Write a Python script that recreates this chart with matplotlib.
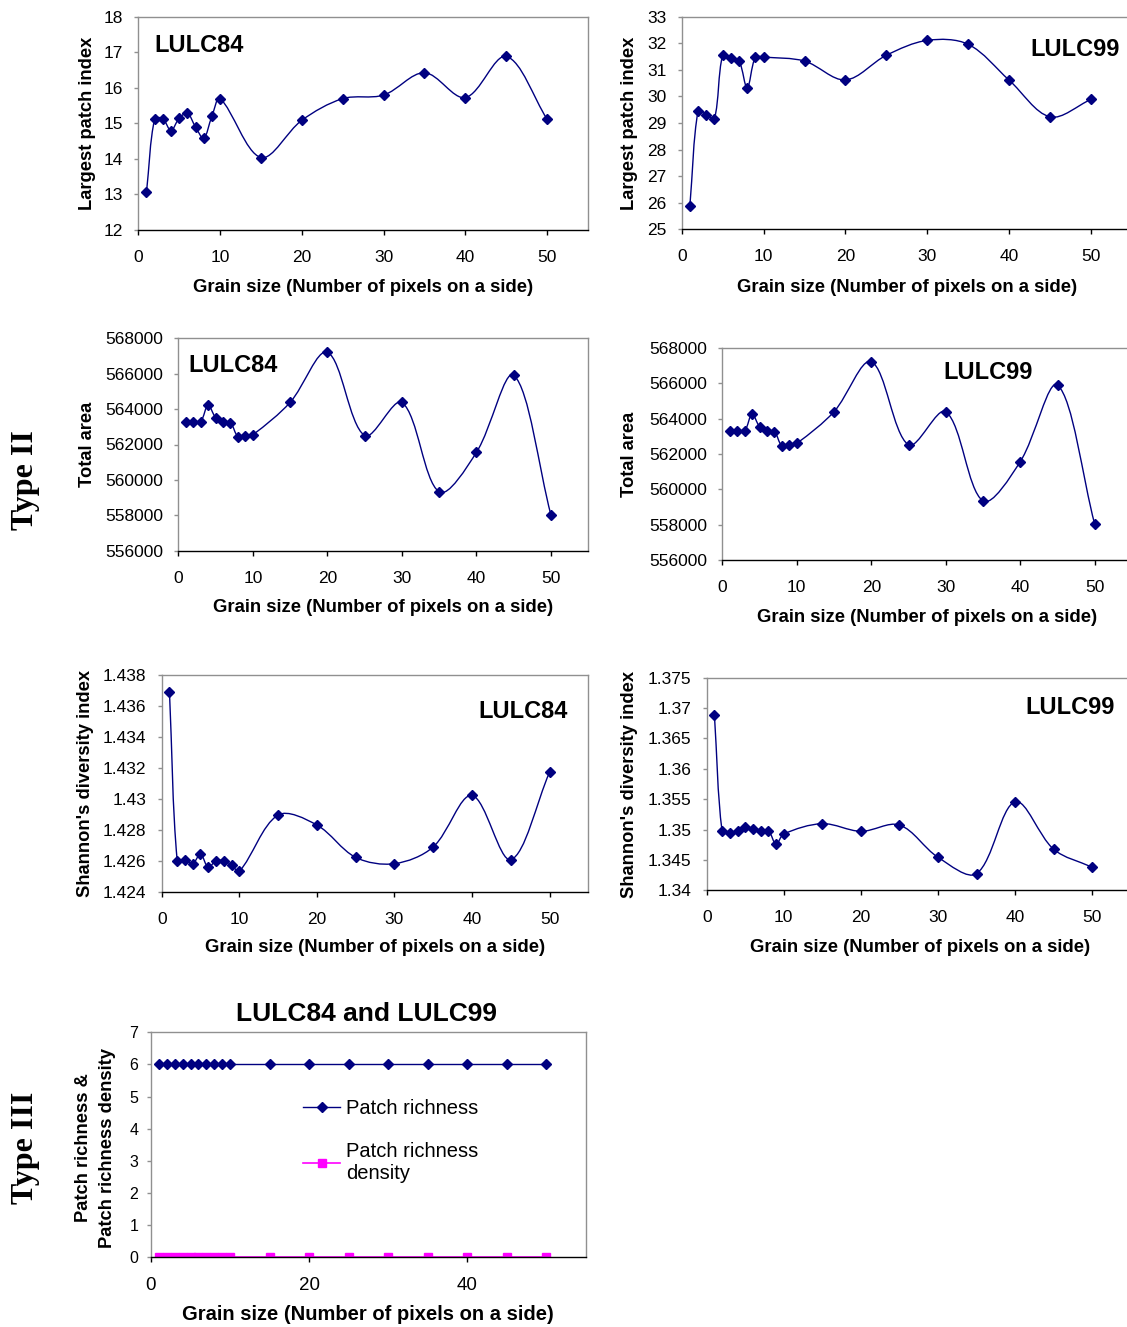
import matplotlib
matplotlib.use("Agg")
import matplotlib.pyplot as plt
from matplotlib.path import Path
from matplotlib.patches import PathPatch
from matplotlib.ticker import FuncFormatter, MultipleLocator

plt.rcParams['font.family'] = ['Liberation Sans', 'DejaVu Sans']

grain = [1, 2, 3, 4, 5, 6, 7, 8, 9, 10, 15, 20, 25, 30, 35, 40, 45, 50]

lpi_84 = [13.05, 15.12, 15.12, 14.79, 15.14, 15.28, 14.89, 14.57, 15.19, 15.69,
          14.03, 15.08, 15.69, 15.79, 16.42, 15.72, 16.88, 15.11]
lpi_99 = [25.89, 29.46, 29.31, 29.16, 31.55, 31.43, 31.34, 30.32, 31.48, 31.48,
          31.33, 30.62, 31.55, 32.11, 31.96, 30.61, 29.23, 29.89]

ta_84 = [563290, 563290, 563290, 564230, 563520, 563290, 563230, 562440, 562480, 562550,
         564380, 567210, 562500, 564380, 559320, 561560, 565910, 558000]
ta_99 = [563300, 563300, 563300, 564260, 563540, 563300, 563260, 562450, 562530, 562600,
         564390, 567210, 562510, 564390, 559350, 561570, 565890, 558030]

shdi_84 = [1.43692, 1.42600, 1.42607, 1.42581, 1.42643, 1.42557, 1.42600, 1.42600, 1.42574, 1.42531,
           1.42895, 1.42831, 1.42622, 1.42581, 1.42689, 1.43022, 1.42607, 1.43171]
shdi_99 = [1.36886, 1.34971, 1.34949, 1.34971, 1.35048, 1.35004, 1.34971, 1.34982, 1.34757, 1.34927,
           1.35097, 1.34971, 1.35075, 1.34543, 1.34274, 1.35458, 1.34675, 1.34379]

pr = [6, 6, 6, 6, 6, 6, 6, 6, 6, 6, 6, 6, 6, 6, 6, 6, 6, 6]
prd = [0, 0, 0, 0, 0, 0, 0, 0, 0, 0, 0, 0, 0, 0, 0, 0, 0, 0]

NAVY = '#000080'
PINK = '#FF00FF'
W, H = 1127, 1327
XLABEL = 'Grain size (Number of pixels on a side)'

fig = plt.figure(figsize=(W / 100, H / 100), dpi=100)


def px_axes(l, t, r, b):
    return fig.add_axes([l / W, 1 - b / H, (r - l) / W, (b - t) / H])


def ftext(x, y, s, **kw):
    fig.text(x / W, 1 - y / H, s, **kw)


def smooth_line(ax, xs, ys, color):
    # excel-like smoothed line: bezier through the points, tangents
    # weighted by the on-screen segment lengths (less overshoot)
    pts = list(zip(xs, ys))
    scr = ax.transData.transform(pts)
    n = len(pts)

    def dist(i, j):
        return ((scr[i][0] - scr[j][0]) ** 2 + (scr[i][1] - scr[j][1]) ** 2) ** 0.5

    verts = [pts[0]]
    codes = [Path.MOVETO]
    for i in range(n - 1):
        a, b = max(i - 1, 0), min(i + 2, n - 1)
        p0, p1, p2, p3 = pts[a], pts[i], pts[i + 1], pts[b]
        d01, d12, d23 = dist(a, i), dist(i, i + 1), dist(i + 1, b)
        k1 = d12 / (d01 + d12) / 3 if d01 + d12 > 0 else 0
        k2 = d12 / (d12 + d23) / 3 if d12 + d23 > 0 else 0
        c1 = (p1[0] + (p2[0] - p0[0]) * k1, p1[1] + (p2[1] - p0[1]) * k1)
        c2 = (p2[0] - (p3[0] - p1[0]) * k2, p2[1] - (p3[1] - p1[1]) * k2)
        verts += [c1, c2, p2]
        codes += [Path.CURVE4] * 3
    ax.add_patch(PathPatch(Path(verts, codes), fill=False, edgecolor=color, lw=1.0))
    ax.plot(xs, ys, ls='none', marker='D', ms=5.3, color=color)


def style(ax, ylim, ystep, xstep=10, ysize=12.5, xsize=12.5):
    ax.set_xlim(0, 55)
    ax.set_ylim(*ylim)
    ax.xaxis.set_major_locator(MultipleLocator(xstep))
    ax.yaxis.set_major_locator(MultipleLocator(ystep))
    ax.yaxis.set_major_formatter(FuncFormatter(lambda v, _: f"{v:g}"))
    ax.xaxis.set_major_formatter(FuncFormatter(lambda v, _: f"{v:g}"))
    for s in ['top', 'right', 'left']:
        ax.spines[s].set_color('#909090')
        ax.spines[s].set_linewidth(1.0)
    ax.spines['bottom'].set_color('black')
    ax.spines['bottom'].set_linewidth(1.0)
    ax.tick_params(axis='x', direction='out', length=3.5, width=1, pad=11, labelsize=xsize)
    ax.tick_params(axis='y', direction='out', length=3, width=1, color='#909090', pad=8, labelsize=ysize)


panels = [
    ((138.3, 16.7, 588.0, 229.5), lpi_84, (12, 18), 1, 'Largest patch index', 87, (363, 287), (199, 46), 'LULC84'),
    ((681.7, 16.7, 1132.0, 229.3), lpi_99, (25, 33), 1, 'Largest patch index', 630, (907, 287), (1075, 50), 'LULC99'),
    ((178.3, 338.3, 588.3, 550.7), ta_84, (556000, 568000), 2000, 'Total area', 87, (383, 607), (233, 366), 'LULC84'),
    ((722.3, 347.7, 1132.0, 560.3), ta_99, (556000, 568000), 2000, 'Total area', 630, (927, 617), (988, 372), 'LULC99'),
    ((161.7, 675.0, 588.3, 891.7), shdi_84, (1.424, 1.438), 0.002, "Shannon's diversity index", 85, (375, 948), (523, 711), 'LULC84'),
    ((706.7, 677.7, 1130.8, 890.3), shdi_99, (1.34, 1.375), 0.005, "Shannon's diversity index", 630, (920, 947), (1070, 707), 'LULC99'),
]

for box, vals, ylim, ystep, ylab, ylx, xlpos, tagpos, tag in panels:
    l, t, r, b = box
    ax = px_axes(l, t, r, b)
    style(ax, ylim, ystep)
    smooth_line(ax, grain, vals, NAVY)
    ftext(ylx, (t + b) / 2, ylab, rotation=90, ha='center', va='center', fontsize=13.2, fontweight='bold')
    ftext(xlpos[0], xlpos[1], XLABEL, ha='center', va='center', fontsize=13.3, fontweight='bold')
    ftext(tagpos[0], tagpos[1], tag, ha='center', va='center', fontsize=17, fontweight='bold')

# Type III panel
ax7 = px_axes(151, 1032.3, 586, 1257.3)
ax7.plot(grain, pr, color=NAVY, lw=1.0, marker='D', ms=5.3, label='Patch richness')
ax7.plot(grain, prd, color=PINK, lw=1.2, marker='s', ms=5.5, label='Patch richness\ndensity')
style(ax7, (0, 7), 1, xstep=20, ysize=11.5, xsize=13.5)
ax7.tick_params(axis='y', pad=6)
ax7.legend(loc='upper left', bbox_to_anchor=(303 / W, 1 - 1099 / H), bbox_transform=fig.transFigure,
           frameon=False, fontsize=14.5, handlelength=1.85, handletextpad=0.3,
           labelspacing=1.2, borderpad=0, borderaxespad=0)
ftext(366, 1014, 'LULC84 and LULC99', ha='center', va='center', fontsize=19, fontweight='bold')
ftext(83, 1148, 'Patch richness &', rotation=90, ha='center', va='center', fontsize=13.2, fontweight='bold')
ftext(107, 1148, 'Patch richness density', rotation=90, ha='center', va='center', fontsize=13.2, fontweight='bold')
ftext(368, 1314, XLABEL, ha='center', va='center', fontsize=14.5, fontweight='bold')

ftext(25, 480, 'Type II', rotation=90, ha='center', va='center', fontsize=23,
      fontweight='bold', family=['Liberation Serif', 'DejaVu Serif'])
ftext(25, 1148, 'Type III', rotation=90, ha='center', va='center', fontsize=23,
      fontweight='bold', family=['Liberation Serif', 'DejaVu Serif'])

fig.savefig('out.png', dpi=100)
